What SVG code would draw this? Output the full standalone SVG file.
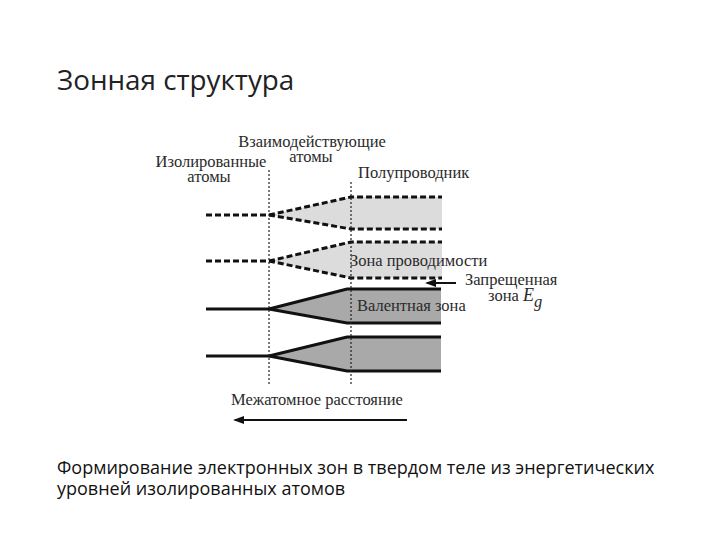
<svg xmlns="http://www.w3.org/2000/svg" width="720" height="540" viewBox="0 0 720 540">
<style>
.title{font-family:"Open Sans","Liberation Sans",sans-serif;font-size:27.8px;fill:#222;}
.cap{font-family:"Open Sans","Liberation Sans",sans-serif;font-size:18px;fill:#111;}
.lbl{font-family:"Liberation Serif",serif;font-size:16.5px;fill:#2a2a2a;}
.dash{stroke:#111;stroke-width:3;stroke-dasharray:6 3;fill:none;}
.solid{stroke:#111;stroke-width:3;fill:none;}
.vdot{stroke:#222;stroke-width:1.2;stroke-dasharray:2 2;fill:none;}
.light{fill:#dcdcdc;stroke:none;}
.dark{fill:#a9a9a9;stroke:none;}
.arr{stroke:#111;stroke-width:2;fill:none;}
</style>
<defs>
<marker id="ah" markerWidth="11" markerHeight="8" refX="9" refY="4" orient="auto" markerUnits="userSpaceOnUse">
<path d="M0,0 L11,4 L0,8 Z" fill="#111"/>
</marker>
</defs>
<rect width="720" height="540" fill="#fff"/>
<text class="title" x="57" y="90">Зонная структура</text>

<g id="bands">
<g id="band1">
<polygon class="light" points="269,215 351,197 442,197 442,229 351,229"/>
<polyline class="dash" points="206,215 269,215"/>
<polyline class="dash" points="269,215 351,197 442,197"/>
<polyline class="dash" points="269,215 351,229 442,229"/>
</g>
<g id="band2">
<polygon class="light" points="269,261 351,242 442,242 442,278 351,278"/>
<polyline class="dash" points="206,261 269,261"/>
<polyline class="dash" points="269,261 351,242 442,242"/>
<polyline class="dash" points="269,261 351,278 442,278"/>
</g>
<g id="band3">
<polygon class="dark" points="269,309 347,289 441,289 441,323 347,323"/>
<polyline class="solid" points="206,309 269,309"/>
<polyline class="solid" points="269,309 347,289 441,289"/>
<polyline class="solid" points="269,309 347,323 441,323"/>
</g>
<g id="band4">
<polygon class="dark" points="269,356 347,337 441,337 441,371 347,371"/>
<polyline class="solid" points="206,356 269,356"/>
<polyline class="solid" points="269,356 347,337 441,337"/>
<polyline class="solid" points="269,356 347,371 441,371"/>
</g>
</g>

<g id="guides">
<line class="vdot" x1="269" y1="170" x2="269" y2="386"/>
<line class="vdot" x1="351" y1="182" x2="351" y2="386"/>
</g>

<g id="labels">
<text class="lbl" x="312" y="147" text-anchor="middle">Взаимодействующие</text>
<text class="lbl" x="311" y="162" text-anchor="middle">атомы</text>
<text class="lbl" x="211" y="167" text-anchor="middle">Изолированные</text>
<text class="lbl" x="209" y="182" text-anchor="middle">атомы</text>
<text class="lbl" x="358" y="178">Полупроводник</text>
<text class="lbl" x="350" y="266">Зона проводимости</text>
<text class="lbl" x="357" y="311">Валентная зона</text>
<text class="lbl" x="465" y="285">Запрещенная</text>
<text class="lbl" x="488" y="301">зона <tspan font-style="italic" font-size="18">E</tspan><tspan font-style="italic" dy="6">g</tspan></text>
<text class="lbl" x="317" y="405" text-anchor="middle">Межатомное расстояние</text>
</g>

<g id="connectors">
<line class="arr" x1="456" y1="283" x2="427" y2="283" marker-end="url(#ah)"/>
<line class="arr" x1="407" y1="420" x2="235" y2="420" marker-end="url(#ah)"/>
</g>

<text class="cap" x="57" y="474">Формирование электронных зон в твердом теле из энергетических</text>
<text class="cap" x="57" y="495">уровней изолированных атомов</text>
</svg>
